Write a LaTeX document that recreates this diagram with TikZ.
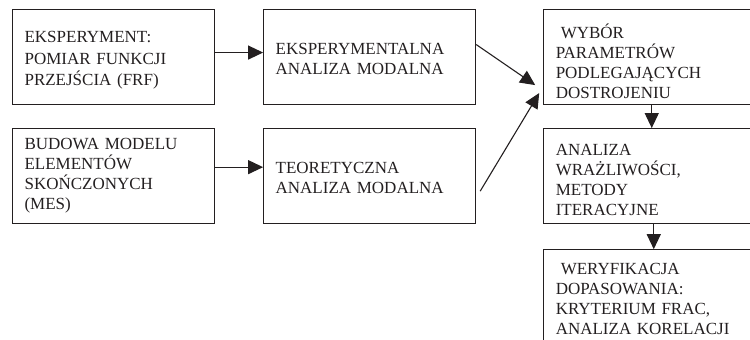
\documentclass[tikz,border=0pt]{standalone}
\usepackage{fontspec}
\setmainfont{Liberation Serif}
\usepackage{tikz}
\usetikzlibrary{arrows.meta,positioning}
\definecolor{ink}{RGB}{35,31,32}
\tikzset{
  box/.style={rectangle,draw=ink,line width=1.1pt,minimum height=95pt,
              inner xsep=12pt,align=left,text=ink,
              font=\fontsize{17}{20}\selectfont},
  flow/.style={-{Triangle[length=15pt,width=14pt]},line width=1.1pt,draw=ink},
}

\begin{document}
\begin{tikzpicture}[x=1pt,y=1pt]
  \useasboundingbox (0,0) rectangle (750,-340);
  \clip (0,0) rectangle (750,-340);

  \node[box,text width=178pt,anchor=north west,font=\fontsize{17}{21.5}\selectfont] (frf) at (12,-9)
     {\rule{0pt}{18pt}EKSPERYMENT:\\ POMIAR FUNKCJI\\ PRZEJŚCIA (FRF)};
  \node[box,text width=188pt,right=48pt of frf] (ema)
     {\rule{0pt}{15pt}EKSPERYMENTALNA\\ ANALIZA MODALNA};
  \node[box,text width=192pt,right=67pt of ema] (wybor)
     {\rule{0pt}{23pt}\hspace*{5pt}WYBÓR\\ PARAMETRÓW\\ PODLEGAJĄCYCH\\ DOSTROJENIU};
  \node[box,text width=178pt,below=23pt of frf] (mes)
     {BUDOWA MODELU\\ ELEMENTÓW\\ SKOŃCZONYCH\\ (MES)};
  \node[box,text width=188pt,below=23pt of ema] (tam)
     {\rule{0pt}{15pt}TEORETYCZNA\\ ANALIZA MODALNA};
  \node[box,text width=192pt,below=23pt of wybor] (wrazl)
     {\rule{0pt}{19pt}ANALIZA\\ WRAŻLIWOŚCI,\\ METODY\\ ITERACYJNE};
  \node[box,text width=192pt,minimum height=98pt,below=25pt of wrazl] (weryf)
     {\hspace*{5pt}WERYFIKACJA\\ DOPASOWANIA:\\ KRYTERIUM FRAC,\\ ANALIZA KORELACJI};

  \draw[flow] ([yshift=4.5pt]frf.east) -- ([yshift=4.5pt]ema.west);
  \draw[flow] ([yshift=9pt]mes.east) -- ([yshift=9pt]tam.west);
  \draw[flow] ([yshift=12.5pt]ema.east) -- ([shift={(-8pt,20pt)}]wybor.south west);
  \draw[flow] ([shift={(4pt,-15pt)}]tam.east) -- ([shift={(-4pt,12pt)}]wybor.south west);
  \draw[flow] (wybor.south) -- (wrazl.north);
  \draw[flow] ([xshift=2pt]wrazl.south) -- ([xshift=2pt]weryf.north);
\end{tikzpicture}
\end{document}
